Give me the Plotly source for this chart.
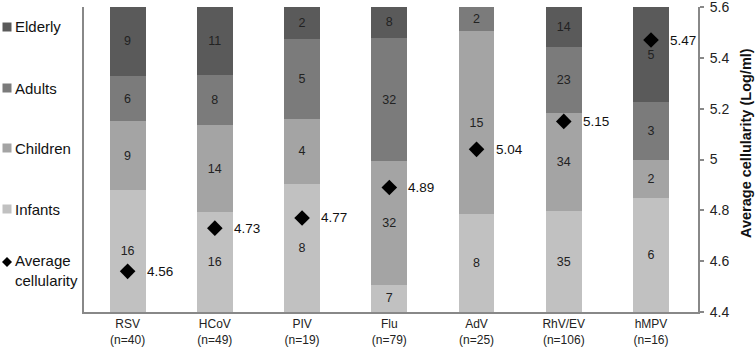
import plotly.graph_objects as go

viruses = ["RSV", "HCoV", "PIV", "Flu", "AdV", "RhV/EV", "hMPV"]
n_labels = ["(n=40)", "(n=49)", "(n=19)", "(n=79)", "(n=25)", "(n=106)", "(n=16)"]
infants = [16, 16, 8, 7, 8, 35, 6]
children = [9, 14, 4, 32, 15, 34, 2]
adults = [6, 8, 5, 32, 2, 23, 3]
elderly = [9, 11, 2, 8, 0, 14, 5]
avg_cell = [4.56, 4.73, 4.77, 4.89, 5.04, 5.15, 5.47]
y2_ticks = [4.4, 4.6, 4.8, 5.0, 5.2, 5.4, 5.6]
y2_ticktext = ["4.4", "4.6", "4.8", "5", "5.2", "5.4", "5.6"]

groups = [("Infants", infants, "#c1c1c1"),
          ("Children", children, "#a4a4a4"),
          ("Adults", adults, "#7b7b7b"),
          ("Elderly", elderly, "#5a5a5a")]

totals = [a + b + c + d for a, b, c, d in zip(infants, children, adults, elderly)]
xcats = [f"{v}<br>{n}" for v, n in zip(viruses, n_labels)]

FONT = "Liberation Sans, Arial, Helvetica, sans-serif"

fig = go.Figure()
for name, vals, col in groups:
    pct = [v / t * 100 for v, t in zip(vals, totals)]
    fig.add_trace(go.Bar(
        x=xcats, y=pct, name=name, marker=dict(color=col, line=dict(width=0)),
        text=[str(v) if v > 0 else "" for v in vals],
        textposition="inside", insidetextanchor="middle", textangle=0,
        textfont=dict(size=12.5, color="#222", family=FONT),
        constraintext="none", showlegend=False, yaxis="y"))

fig.add_trace(go.Scatter(
    x=xcats, y=avg_cell, mode="markers", name="Average cellularity",
    marker=dict(symbol="diamond", size=12, color="black"),
    yaxis="y2", showlegend=False))

for xc, v in zip(xcats, avg_cell):
    fig.add_annotation(x=xc, y=v, xref="x", yref="y2", text=f"{v:.2f}",
                       showarrow=False, xanchor="left", yanchor="middle", xshift=17,
                       font=dict(size=13.5, color="#111", family=FONT))

# geometry helpers (pixels -> paper)
L, R, T, B = 84, 698, 7, 312
def px(x):
    return (x - L) / (R - L)
def py(y):
    return (B - y) / (B - T)

# manual legend
legend_items = [("Elderly", "#5a5a5a", 27), ("Adults", "#7b7b7b", 88),
                ("Children", "#a4a4a4", 148), ("Infants", "#c1c1c1", 209)]
for name, col, yc in legend_items:
    fig.add_shape(type="rect", xref="paper", yref="paper",
                  x0=px(2.5), x1=px(11.5), y0=py(yc + 4.5), y1=py(yc - 4.5),
                  fillcolor=col, line=dict(width=0))
    fig.add_annotation(xref="paper", yref="paper", x=px(13), y=py(yc), text=name,
                       showarrow=False, xanchor="left", yanchor="middle",
                       font=dict(size=15, color="#111", family=FONT))
yd = 262
fig.add_shape(type="path", xref="paper", yref="paper",
              path=f"M {px(2)},{py(yd)} L {px(7)},{py(yd-5)} L {px(12)},{py(yd)} L {px(7)},{py(yd+5)} Z",
              fillcolor="black", line=dict(width=0))
fig.add_annotation(xref="paper", yref="paper", x=px(13), y=py(270),
                   text="Average<br>cellularity", align="left",
                   showarrow=False, xanchor="left", yanchor="middle",
                   font=dict(size=15, color="#111", family=FONT))

# right axis title
fig.add_annotation(xref="paper", yref="paper", x=px(746), y=py(143),
                   text="<b>Average cellularity (Log/ml)</b>", textangle=-90,
                   showarrow=False, xanchor="center", yanchor="middle",
                   font=dict(size=14.5, color="#111", family=FONT))

fig.update_layout(
    width=756, height=349,
    margin=dict(l=L, r=756 - R, t=T, b=349 - B),
    paper_bgcolor="white", plot_bgcolor="white",
    barmode="stack", bargap=0.59,
    font=dict(family=FONT, color="#222"),
    showlegend=False,
    xaxis=dict(showline=True, linecolor="#888", linewidth=2, ticks="",
               tickfont=dict(size=12, color="#222"), showgrid=False, zeroline=False,
               automargin=False),
    yaxis=dict(range=[0, 100], showline=True, linecolor="#888", linewidth=1.5,
               showticklabels=False, ticks="", showgrid=False, zeroline=False,
               automargin=False),
    yaxis2=dict(overlaying="y", side="right", range=[4.4, 5.6],
                tickmode="array", tickvals=y2_ticks, ticktext=y2_ticktext,
                showline=True, linecolor="#888", linewidth=2, ticks="outside",
                ticklen=4, tickcolor="#888", tickwidth=1.5, ticklabelstandoff=3,
                ticklabeloverflow="allow",
                tickfont=dict(size=14, color="#222"), showgrid=False, zeroline=False,
                automargin=False),
)

fig.write_html("out.html", config={"displayModeBar": False},
               post_script="document.body.style.margin='0px';document.body.style.padding='0px';")
